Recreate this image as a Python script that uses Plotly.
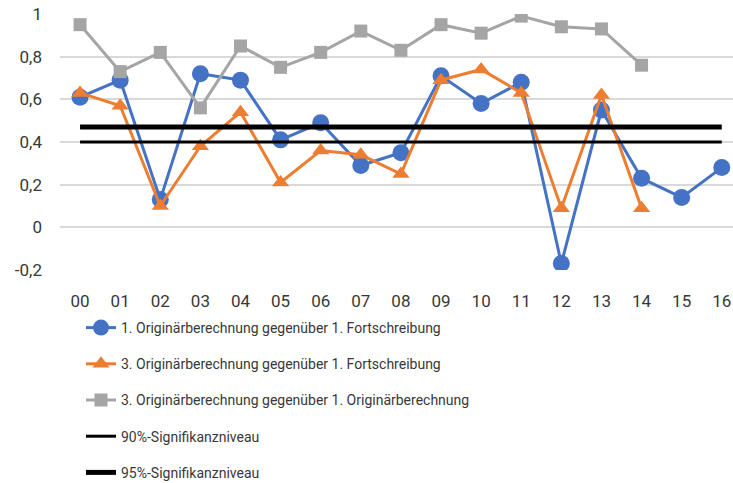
import plotly.graph_objects as go

categories = ["00", "01", "02", "03", "04", "05", "06", "07", "08",
              "09", "10", "11", "12", "13", "14", "15", "16"]

blue_vals = [0.61, 0.69, 0.13, 0.72, 0.69, 0.41, 0.49, 0.29, 0.35,
             0.71, 0.58, 0.68, -0.17, 0.55, 0.23, 0.14, 0.28]
orange_vals = [0.63, 0.57, 0.10, 0.38, 0.54, 0.21, 0.36, 0.34, 0.25,
               0.69, 0.74, 0.63, 0.09, 0.62, 0.09, None, None]
gray_vals = [0.95, 0.73, 0.82, 0.56, 0.85, 0.75, 0.82, 0.92, 0.83,
             0.95, 0.91, 0.99, 0.94, 0.93, 0.76, None, None]
sig90 = [0.40] * 17
sig95 = [0.47] * 17

names = [
    "1. Originärberechnung gegenüber 1. Fortschreibung",
    "3. Originärberechnung gegenüber 1. Fortschreibung",
    "3. Originärberechnung gegenüber 1. Originärberechnung",
    "90%-Signifikanzniveau",
    "95%-Signifikanzniveau",
]

ytick_vals = [-0.2, 0, 0.2, 0.4, 0.6, 0.8, 1]
ytick_text = ["-0,2", "0", "0,2", "0,4", "0,6", "0,8", "1"]

FONT = "Roboto, sans-serif"
TXT = "#383838"

fig = go.Figure()
fig.add_trace(go.Scatter(x=categories, y=blue_vals, name=names[0], mode="lines+markers",
                         line=dict(color="#4472C4", width=3),
                         marker=dict(symbol="circle", size=17, color="#4472C4"),
                         legendgroup="a"))
fig.add_trace(go.Scatter(x=categories, y=orange_vals, name=names[1], mode="lines+markers",
                         line=dict(color="#ED7D31", width=3),
                         marker=dict(symbol="triangle-up", size=15, color="#ED7D31"),
                         legendgroup="b"))
fig.add_trace(go.Scatter(x=categories, y=gray_vals, name=names[2], mode="lines+markers",
                         line=dict(color="#A5A5A5", width=3),
                         marker=dict(symbol="square", size=13, color="#A5A5A5"),
                         legendgroup="c"))
fig.add_trace(go.Scatter(x=categories, y=sig90, name=names[3], mode="lines",
                         line=dict(color="#000000", width=3), legendgroup="d"))
fig.add_trace(go.Scatter(x=categories, y=sig95, name=names[4], mode="lines",
                         line=dict(color="#000000", width=5), legendgroup="e"))

fig.update_layout(
    width=733, height=483,
    margin=dict(l=60, r=0, t=14, b=213, autoexpand=False),
    paper_bgcolor="white", plot_bgcolor="white",
    font=dict(family=FONT, size=14, color=TXT),
    showlegend=True,
    legend=dict(
        x=(81 - 60) / 673, y=-(312 - 270) / 256, xanchor="left", yanchor="top",
        traceorder="grouped", tracegroupgap=15,
        font=dict(family=FONT, size=14, color=TXT),
        bgcolor="rgba(0,0,0,0)",
    ),
    xaxis=dict(
        type="category", range=[-0.5, 16.28], automargin=False,
        showgrid=False, zeroline=False, showline=False,
        ticks="outside", ticklen=16, tickcolor="rgba(0,0,0,0)",
        tickfont=dict(family=FONT, size=17, color=TXT),
    ),
    yaxis=dict(
        range=[-0.2, 1.0], automargin=False,
        tickvals=ytick_vals, ticktext=ytick_text,
        showgrid=True, gridcolor="#D9D9D9", gridwidth=1.5,
        zeroline=False, showline=False,
        ticks="", ticklabelstandoff=17,
        tickfont=dict(family=FONT, size=17, color=TXT),
    ),
)

fig.write_html("out.html", config={"displayModeBar": False},
               post_script="document.body.style.margin='0';")
